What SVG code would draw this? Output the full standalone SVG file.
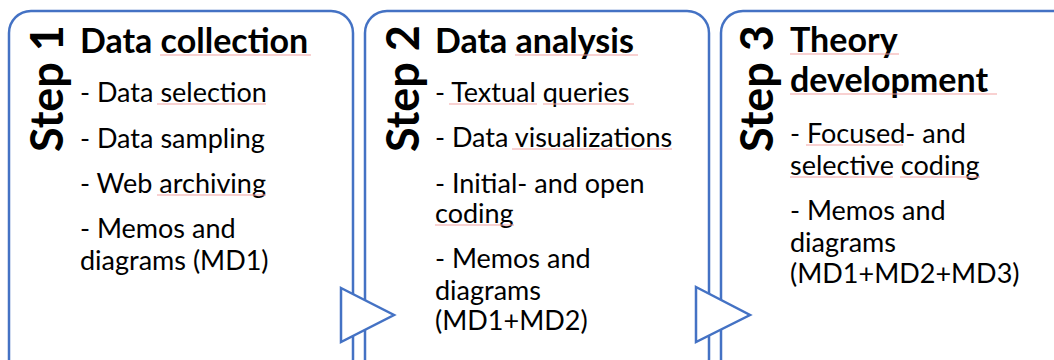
<svg xmlns="http://www.w3.org/2000/svg" width="1054" height="360" viewBox="0 0 1054 360">
<style>
.box{fill:#ffffff;stroke:#4472C4;stroke-width:2.5}
.tri{fill:#ffffff;stroke:#4472C4;stroke-width:2.5;stroke-linejoin:miter}
.step{font-family:Lato,"Liberation Sans",sans-serif;font-weight:bold;font-size:45px;fill:#000}
.title{font-family:Lato,"Liberation Sans",sans-serif;font-weight:bold;font-size:34px;fill:#000}
.body{font-family:Lato,"Liberation Sans",sans-serif;font-size:27px;fill:#000}
.sp{stroke:#f2a3a3;stroke-width:1}
</style>
<rect width="1054" height="360" fill="#ffffff"/>
<g id="step1">
<rect class="box" x="9" y="11" width="344" height="370" rx="22"/>
<text class="step" transform="translate(63,152) rotate(-90)">Step 1</text>
<text class="title" x="80" y="53">Data collection</text>
<text class="body" x="80" y="102">- Data selection</text>
<text class="body" x="80" y="148">- Data sampling</text>
<text class="body" x="80" y="193">- Web archiving</text>
<text class="body" x="80" y="238">- Memos and</text>
<text class="body" x="80" y="270">diagrams (MD1)</text>
</g>
<g id="step2">
<rect class="box" x="365" y="11" width="344" height="370" rx="22"/>
<text class="step" transform="translate(419,152) rotate(-90)">Step 2</text>
<text class="title" x="435" y="53">Data analysis</text>
<text class="body" x="435" y="102">- Textual queries</text>
<text class="body" x="435" y="147">- Data visualizations</text>
<text class="body" x="435" y="193">- Initial- and open</text>
<text class="body" x="435" y="223">coding</text>
<text class="body" x="435" y="268">- Memos and</text>
<text class="body" x="435" y="300">diagrams</text>
<text class="body" x="435" y="330">(MD1+MD2)</text>
</g>
<g id="step3">
<rect class="box" x="721" y="11" width="360" height="370" rx="22"/>
<text class="step" transform="translate(773,152) rotate(-90)">Step 3</text>
<text class="title" x="790" y="52">Theory</text>
<text class="title" x="790" y="92">development</text>
<text class="body" x="790" y="143">- Focused- and</text>
<text class="body" x="790" y="175">selective coding</text>
<text class="body" x="790" y="220">- Memos and</text>
<text class="body" x="790" y="252">diagrams</text>
<text class="body" x="790" y="283">(MD1+MD2+MD3)</text>
</g>
<g id="spellcheck">
<line class="sp" x1="160" y1="55" x2="311" y2="55"/>
<line class="sp" x1="157" y1="104" x2="266" y2="104"/>
<line class="sp" x1="157" y1="195" x2="266" y2="195"/>
<line class="sp" x1="515" y1="55" x2="638" y2="55"/>
<line class="sp" x1="449" y1="104" x2="537" y2="104"/>
<line class="sp" x1="543" y1="104" x2="634" y2="104"/>
<line class="sp" x1="512" y1="149" x2="672" y2="149"/>
<line class="sp" x1="435" y1="225" x2="514" y2="225"/>
<line class="sp" x1="790" y1="54" x2="899" y2="54"/>
<line class="sp" x1="790" y1="94" x2="997" y2="94"/>
<line class="sp" x1="806" y1="145" x2="903" y2="145"/>
<line class="sp" x1="790" y1="177" x2="893" y2="177"/>
<line class="sp" x1="900" y1="177" x2="980" y2="177"/>
</g>
<g id="connectors">
<polygon class="tri" points="341,288 394,315 341,342"/>
<polygon class="tri" points="696,287 750,315 696,342"/>
</g>
</svg>
